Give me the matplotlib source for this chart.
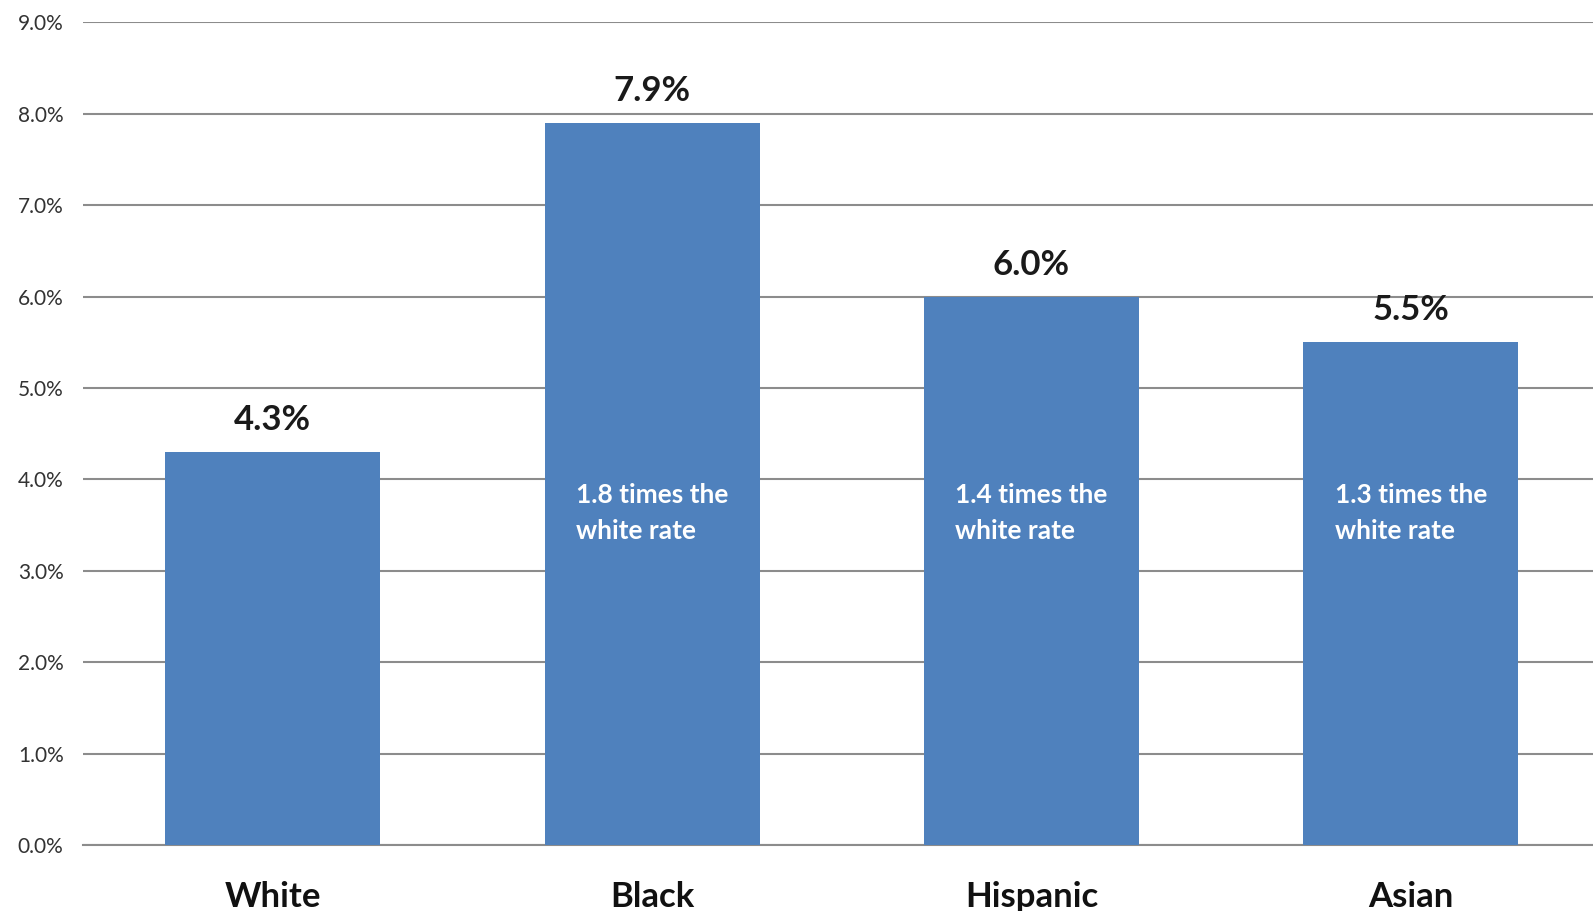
import numpy as np
import matplotlib.pyplot as plt

groups = ["White", "Black", "Hispanic", "Asian"]
rates = [4.3, 7.9, 6.0, 5.5]
ratio_notes = ["", "1.8 times the\nwhite rate", "1.4 times the\nwhite rate", "1.3 times the\nwhite rate"]
y_ticks = [0, 1, 2, 3, 4, 5, 6, 7, 8, 9]

plt.rcParams['font.family'] = ['Lato', 'DejaVu Sans']

fig = plt.figure(figsize=(15.93, 9.11), dpi=100)
ax = fig.add_axes([0.0521, 0.0724, 0.9479, 0.903])

x = np.arange(len(groups))
ax.bar(x, rates, width=0.567, color="#4F81BD", zorder=3)

# value labels above bars
for xi, r in zip(x, rates):
    ax.annotate(f"{r:.1f}%", (xi, r), xytext=(0, 23), textcoords="offset points",
                ha="center", va="center", fontsize=25, fontweight="bold", color="#1a1a1a")

# ratio notes inside bars
for xi, note in zip(x, ratio_notes):
    if note:
        ax.text(xi, 3.63, note, ha="center", va="center", multialignment="left",
                fontsize=19, fontweight="bold", color="white", linespacing=1.6, zorder=4)

ax.set_ylim(0, 9)
ax.set_xlim(-0.5, 3.48)
ax.set_yticks(y_ticks)
ax.set_yticklabels([f"{t:.1f}%" for t in y_ticks], fontsize=15, color="#333333")
ax.set_xticks(x)
ax.set_xticklabels(groups, fontsize=25, fontweight="bold", color="#111111")
ax.tick_params(axis="y", length=0, pad=14)
ax.tick_params(axis="x", length=0, pad=26)

ax.grid(axis="y", color="#8c8c8c", linewidth=1.5, zorder=0)
for side in ["top", "right", "left"]:
    ax.spines[side].set_visible(False)
ax.spines["bottom"].set_color("#8c8c8c")
ax.spines["bottom"].set_linewidth(1.5)

fig.savefig("out.png", dpi=100)
